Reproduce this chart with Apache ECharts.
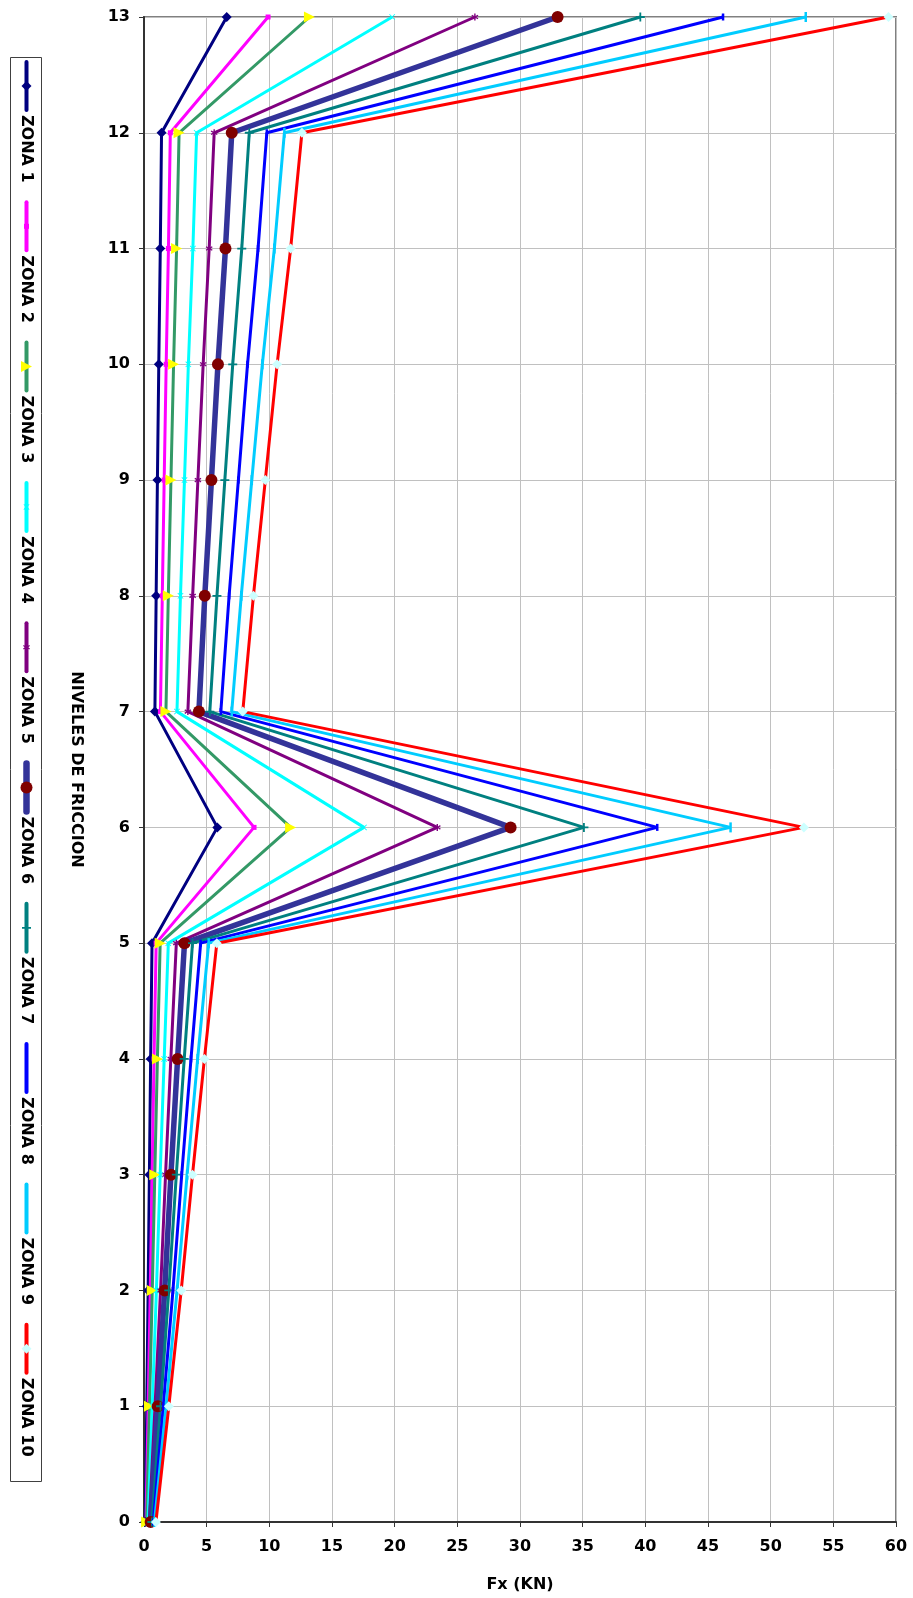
<!DOCTYPE html>
<html>
<head>
<meta charset="utf-8">
<script src="https://cdn.jsdelivr.net/npm/echarts@6/dist/echarts.min.js"></script>
<style>
  html, body { margin: 0; padding: 0; background: #ffffff; }
  #chart { width: 913px; height: 1598px; }
</style>
</head>
<body>
<div id="chart"></div>
<script>
// Friction levels (vertical axis) and lateral force Fx in kN for each zone
const levels = [0, 1, 2, 3, 4, 5, 6, 7, 8, 9, 10, 11, 12, 13];
const zoneNames = ['ZONA 1', 'ZONA 2', 'ZONA 3', 'ZONA 4', 'ZONA 5',
                   'ZONA 6', 'ZONA 7', 'ZONA 8', 'ZONA 9', 'ZONA 10'];

const zona1  = [0.10, 0.22, 0.33, 0.43, 0.53, 0.64, 5.85, 0.87, 0.97, 1.07, 1.18, 1.30, 1.40, 6.60];
const zona2  = [0.16, 0.33, 0.50, 0.65, 0.80, 0.97, 8.78, 1.31, 1.46, 1.61, 1.77, 1.95, 2.10, 9.90];
const zona3  = [0.21, 0.44, 0.66, 0.86, 1.07, 1.29, 11.70, 1.75, 1.94, 2.15, 2.36, 2.60, 2.80, 13.20];
const zona4  = [0.32, 0.66, 0.99, 1.29, 1.61, 1.94, 17.55, 2.63, 2.91, 3.23, 3.54, 3.90, 4.20, 19.80];
const zona5  = [0.42, 0.88, 1.32, 1.72, 2.14, 2.58, 23.40, 3.50, 3.88, 4.30, 4.72, 5.20, 5.60, 26.40];
const zona6  = [0.53, 1.10, 1.65, 2.15, 2.68, 3.23, 29.25, 4.38, 4.85, 5.38, 5.90, 6.50, 7.00, 33.00];
const zona7  = [0.63, 1.32, 1.98, 2.58, 3.21, 3.87, 35.10, 5.25, 5.82, 6.45, 7.08, 7.80, 8.40, 39.60];
const zona8  = [0.74, 1.54, 2.31, 3.01, 3.75, 4.52, 40.95, 6.13, 6.79, 7.53, 8.26, 9.10, 9.80, 46.20];
const zona9  = [0.84, 1.76, 2.64, 3.44, 4.28, 5.16, 46.80, 7.00, 7.76, 8.60, 9.44, 10.40, 11.20, 52.80];
const zona10 = [0.95, 1.98, 2.97, 3.87, 4.82, 5.81, 52.65, 7.88, 8.73, 9.68, 10.62, 11.70, 12.60, 59.40];

const zoneValues = [zona1, zona2, zona3, zona4, zona5, zona6, zona7, zona8, zona9, zona10];

// Axis ranges
const xMin = 0, xMax = 60, xStep = 5;
const yMin = 0, yMax = 13, yStep = 1;

// Marker outlines as polygons inside a 10x10 box (circle handled separately)
const MARKS = {
  diamond:  [[5,0],[10,5],[5,10],[0,5]],
  square:   [[0,0],[10,0],[10,10],[0,10]],
  triRight: [[0,0],[10,5],[0,10]],
  cross:    [[1,0],[5,4],[9,0],[10,1],[6,5],[10,9],[9,10],[5,6],[1,10],[0,9],[4,5],[0,1]],
  star:     [[4,0],[6,0],[6,3.6],[8.9,1.7],[10,3.3],[7,5],[10,6.7],[8.9,8.3],[6,6.4],[6,10],
             [4,10],[4,6.4],[1.1,8.3],[0,6.7],[3,5],[0,3.3],[1.1,1.7],[4,3.6]],
  plus:     [[4,0],[6,0],[6,4],[10,4],[10,6],[6,6],[6,10],[4,10],[4,6],[0,6],[0,4],[4,4]],
  bar:      [[0,0],[10,0],[10,10],[0,10]]
};

function symbolOf(mark) {
  if (mark === 'circle') return 'circle';
  return 'path://M' + MARKS[mark].map(p => p[0] + ',' + p[1]).join('L') + 'Z';
}

// Line and marker style per zone
const zoneStyles = [
  { color: '#000080', width: 3,   mark: 'diamond',  markColor: '#000080', size: [10, 10] },
  { color: '#FF00FF', width: 3,   mark: 'square',   markColor: '#FF00FF', size: [5, 5] },
  { color: '#339966', width: 3,   mark: 'triRight', markColor: '#FFFF00', size: [11, 11] },
  { color: '#00FFFF', width: 3,   mark: 'cross',    markColor: '#00FFFF', size: [6, 6] },
  { color: '#800080', width: 3,   mark: 'star',     markColor: '#800080', size: [7, 7] },
  { color: '#333399', width: 5.5, mark: 'circle',   markColor: '#800000', size: [12, 12] },
  { color: '#008080', width: 3,   mark: 'plus',     markColor: '#008080', size: [9, 9] },
  { color: '#0000FF', width: 3,   mark: 'bar',      markColor: '#0000FF', size: [2.5, 7] },
  { color: '#00CCFF', width: 3,   mark: 'bar',      markColor: '#00CCFF', size: [2.5, 10] },
  { color: '#FF0000', width: 3,   mark: 'diamond',  markColor: '#CCFFFF', size: [10, 10] }
];

const FONT = '"DejaVu Sans", "Liberation Sans", sans-serif';

const series = zoneNames.map((name, i) => {
  const st = zoneStyles[i];
  return {
    name: name,
    type: 'line',
    data: levels.map((lv, k) => [zoneValues[i][k], lv]),
    symbol: symbolOf(st.mark),
    symbolSize: st.size,
    showSymbol: true,
    clip: false,
    lineStyle: { color: st.color, width: st.width },
    itemStyle: { color: st.markColor, borderWidth: 0 },
    emphasis: { disabled: true },
    animation: false
  };
});

// Vertical legend box on the left, with rotated labels
const legendX = 26.5, legendTop = 62, legendStep = 140.3, legendLine = 48;
const graphics = [{
  type: 'rect',
  shape: { x: 10.5, y: 57.5, width: 31, height: 1424 },
  style: { fill: '#ffffff', stroke: '#404040', lineWidth: 1 },
  z: 10
}];
zoneNames.forEach((name, i) => {
  const st = zoneStyles[i];
  const y0 = legendTop + legendStep * i;
  const cy = y0 + legendLine / 2;
  graphics.push({
    type: 'line',
    shape: { x1: legendX, y1: y0, x2: legendX, y2: y0 + legendLine },
    style: { stroke: st.color, lineWidth: st.width + 1, lineCap: 'round' },
    z: 11
  });
  if (st.mark === 'circle') {
    graphics.push({
      type: 'circle',
      shape: { cx: legendX, cy: cy, r: st.size[0] / 2 },
      style: { fill: st.markColor },
      z: 12
    });
  } else if (st.mark !== 'bar') {
    const w = st.size[0], h = st.size[1];
    graphics.push({
      type: 'polygon',
      shape: { points: MARKS[st.mark].map(p => [legendX - w / 2 + p[0] * w / 10, cy - h / 2 + p[1] * h / 10]) },
      style: { fill: st.markColor },
      z: 12
    });
  }
  graphics.push({
    type: 'text',
    x: legendX,
    y: y0 + legendLine + 5,
    rotation: -Math.PI / 2,
    style: {
      text: name,
      fill: '#000000',
      font: 'bold 16px ' + FONT,
      align: 'left', verticalAlign: 'middle',
      textAlign: 'left', textVerticalAlign: 'middle'
    },
    z: 12
  });
});

const chart = echarts.init(document.getElementById('chart'), null, { renderer: 'canvas' });
chart.setOption({
  backgroundColor: '#ffffff',
  animation: false,
  grid: {
    left: 144, right: 17, top: 17, bottom: 76,
    show: true, borderColor: '#808080', borderWidth: 2, backgroundColor: 'transparent'
  },
  xAxis: {
    type: 'value',
    min: xMin, max: xMax, interval: xStep,
    name: 'Fx (KN)',
    nameLocation: 'middle',
    nameGap: 55,
    nameTextStyle: { fontFamily: FONT, fontWeight: 'bold', fontSize: 16, color: '#000' },
    axisLine: { show: true, onZero: false, lineStyle: { color: '#333333', width: 2 } },
    axisTick: { show: true, length: 5, lineStyle: { color: '#333333', width: 1 } },
    axisLabel: { fontFamily: FONT, fontWeight: 'bold', fontSize: 16, color: '#000', margin: 17 },
    splitLine: { show: true, lineStyle: { color: '#c0c0c0', width: 1 } }
  },
  yAxis: {
    type: 'value',
    min: yMin, max: yMax, interval: yStep,
    name: 'NIVELES DE FRICCION',
    nameLocation: 'middle',
    nameRotate: -90,
    nameGap: 60,
    nameTextStyle: { fontFamily: FONT, fontWeight: 'bold', fontSize: 16, color: '#000' },
    axisLine: { show: true, onZero: false, lineStyle: { color: '#333333', width: 2 } },
    axisTick: { show: true, length: 5, lineStyle: { color: '#333333', width: 1 } },
    axisLabel: { fontFamily: FONT, fontWeight: 'bold', fontSize: 16, color: '#000', margin: 14 },
    splitLine: { show: true, lineStyle: { color: '#c0c0c0', width: 1 } }
  },
  series: series,
  graphic: { elements: graphics }
});
</script>
</body>
</html>
